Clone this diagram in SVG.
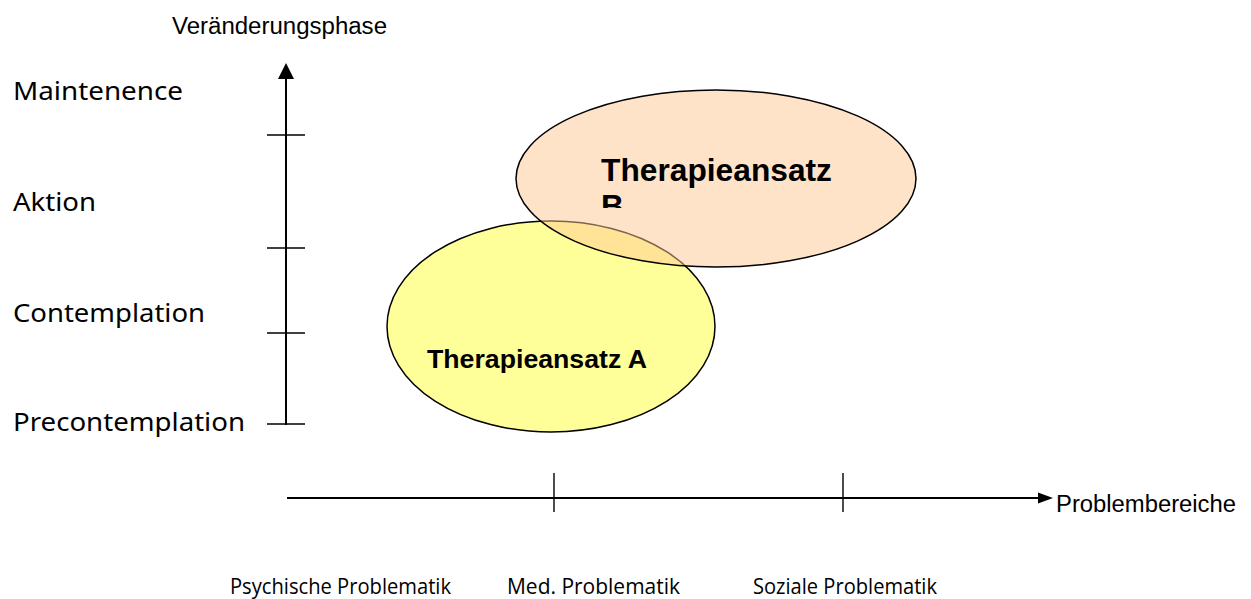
<svg xmlns="http://www.w3.org/2000/svg" width="1251" height="599" viewBox="0 0 1251 599">
<style>
.axis{stroke:#000;stroke-width:2;fill:none}
.tick{stroke:#000;stroke-width:1.4;fill:none}
.phase{font-family:"Noto Sans","Open Sans",sans-serif;font-size:25px;fill:#000}
.area{font-family:"Open Sans","Noto Sans",sans-serif;font-size:21px;fill:#000}
.arial{font-family:"Liberation Sans",Arial,sans-serif;fill:#000}
.bold{font-family:"Liberation Sans",Arial,sans-serif;font-weight:bold;fill:#000}
</style>
<defs>
<clipPath id="clipB"><rect x="560" y="140" width="320" height="68"/></clipPath>
</defs>
<rect width="1251" height="599" fill="#fff"/>
<g id="connectors">
<line class="axis" x1="286" y1="425" x2="286" y2="78"/>
<polygon points="286,63 278,79 294,79" fill="#000"/>
<line class="tick" x1="267" y1="135" x2="305" y2="135"/>
<line class="tick" x1="267" y1="248" x2="305" y2="248"/>
<line class="tick" x1="267" y1="333" x2="305" y2="333"/>
<line class="tick" x1="267" y1="424" x2="305" y2="424"/>
<line class="axis" x1="287" y1="498" x2="1039" y2="498"/>
<polygon points="1053,498 1038,492.5 1038,503.5" fill="#000"/>
<line class="tick" x1="554" y1="473" x2="554" y2="512"/>
<line class="tick" x1="843" y1="473" x2="843" y2="512"/>
</g>
<g id="labels">
<text class="arial" x="172" y="34" font-size="23.5" textLength="215" lengthAdjust="spacingAndGlyphs">Veränderungsphase</text>
<text class="phase" x="13" y="100" textLength="170" lengthAdjust="spacingAndGlyphs">Maintenence</text>
<text class="phase" x="13" y="211" textLength="83" lengthAdjust="spacingAndGlyphs">Aktion</text>
<text class="phase" x="13" y="322" textLength="192" lengthAdjust="spacingAndGlyphs">Contemplation</text>
<text class="phase" x="13" y="431" textLength="232" lengthAdjust="spacingAndGlyphs">Precontemplation</text>
<text class="arial" x="1056" y="512" font-size="23.5" textLength="180" lengthAdjust="spacingAndGlyphs">Problembereiche</text>
<text class="area" x="230" y="594" textLength="221" lengthAdjust="spacingAndGlyphs">Psychische Problematik</text>
<text class="area" x="507" y="594" textLength="173" lengthAdjust="spacingAndGlyphs">Med. Problematik</text>
<text class="area" x="753" y="594" textLength="184" lengthAdjust="spacingAndGlyphs">Soziale Problematik</text>
</g>
<g id="nodeA">
<ellipse cx="551" cy="326.5" rx="164" ry="105.5" fill="#ffff99" stroke="#000" stroke-width="1.5"/>
<text class="bold" x="427" y="368" font-size="25" textLength="220" lengthAdjust="spacingAndGlyphs">Therapieansatz A</text>
</g>
<g id="nodeB">
<ellipse cx="716" cy="178.5" rx="200" ry="88.5" fill="rgb(255,200,147)" fill-opacity="0.5" stroke="#000" stroke-width="1.5"/>
<g clip-path="url(#clipB)">
<text class="bold" x="601" y="181" font-size="31.5" textLength="231" lengthAdjust="spacingAndGlyphs">Therapieansatz</text>
<text class="bold" x="601" y="217" font-size="31.5">B</text>
</g>
</g>
</svg>
